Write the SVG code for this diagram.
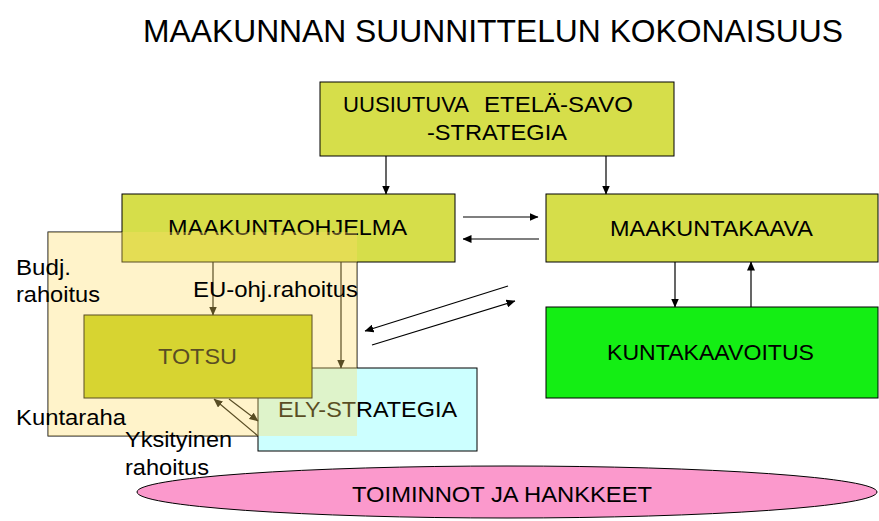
<svg xmlns="http://www.w3.org/2000/svg" width="879" height="521" viewBox="0 0 879 521">
<defs>
<marker id="ah" markerWidth="9" markerHeight="8" refX="8.5" refY="4" orient="auto" markerUnits="userSpaceOnUse">
<path d="M0,0 L9,4 L0,8 z" fill="#000"/>
</marker>
<style>
text{font-family:"Liberation Sans",Arial,sans-serif;fill:#000}
.box{stroke:#000;stroke-width:1}
.lime{fill:#d6de4a}
.t22{font-size:22px}
.lbl{font-size:22px}
.conn line{stroke:#000;stroke-width:1.2;fill:none}
.arr{marker-end:url(#ah)}
</style>
</defs>
<rect width="879" height="521" fill="#fff"/>
<text x="143" y="42" font-size="32" textLength="700" lengthAdjust="spacingAndGlyphs">MAAKUNNAN SUUNNITTELUN KOKONAISUUS</text>

<g id="funding-frame">
<rect x="48" y="232" width="309" height="204" fill="none" stroke="#000" stroke-width="1"/>
</g>

<g id="ely-strategia">
<rect class="box" x="258" y="368" width="219" height="83" fill="#ccffff"/>
<text class="t22" x="278" y="417" textLength="179" lengthAdjust="spacingAndGlyphs">ELY-STRATEGIA</text>
</g>

<g id="totsu">
<rect class="box" x="84" y="315" width="228" height="83" fill="#c2d014"/>
<text class="t22" x="158" y="364" textLength="79" lengthAdjust="spacingAndGlyphs">TOTSU</text>
</g>

<g id="uusiutuva">
<rect class="box lime" x="320" y="82" width="354" height="74"/>
<text class="t22" y="112"><tspan x="343" textLength="126" lengthAdjust="spacingAndGlyphs">UUSIUTUVA</tspan><tspan x="484" textLength="149" lengthAdjust="spacingAndGlyphs">ETELÄ-SAVO</tspan></text>
<text class="t22" x="427" y="140" textLength="140" lengthAdjust="spacingAndGlyphs">-STRATEGIA</text>
</g>

<g id="maakuntaohjelma">
<rect class="box lime" x="122" y="194" width="333" height="68"/>
<text class="t22" x="168" y="235" textLength="239" lengthAdjust="spacingAndGlyphs">MAAKUNTAOHJELMA</text>
</g>

<g id="maakuntakaava">
<rect class="box lime" x="546" y="194" width="332" height="68"/>
<text class="t22" x="610" y="236" textLength="203" lengthAdjust="spacingAndGlyphs">MAAKUNTAKAAVA</text>
</g>

<g id="kuntakaavoitus">
<rect class="box" x="546" y="307" width="332" height="91" fill="#14ee14"/>
<text class="t22" x="607" y="360" textLength="207" lengthAdjust="spacingAndGlyphs">KUNTAKAAVOITUS</text>
</g>

<g id="toiminnot">
<ellipse cx="507" cy="492" rx="370" ry="26" fill="#fb99cc" stroke="#000" stroke-width="1"/>
<text class="t22" x="352" y="502" textLength="300" lengthAdjust="spacingAndGlyphs">TOIMINNOT JA HANKKEET</text>
</g>

<g id="connectors" class="conn">
<line class="arr" x1="386" y1="156" x2="386" y2="194"/>
<line class="arr" x1="606" y1="156" x2="606" y2="194"/>
<line class="arr" x1="463" y1="217" x2="538" y2="217"/>
<line class="arr" x1="539" y1="239" x2="463" y2="239"/>
<line class="arr" x1="675" y1="262" x2="675" y2="307"/>
<line class="arr" x1="751" y1="307" x2="751" y2="262"/>
<line class="arr" x1="508" y1="286" x2="365" y2="331"/>
<line class="arr" x1="372" y1="345" x2="515" y2="301"/>
<line class="arr" x1="213" y1="262" x2="213" y2="315"/>
<line class="arr" x1="341" y1="262" x2="341" y2="368"/>
<line class="arr" x1="258" y1="436" x2="214" y2="399"/>
<line class="arr" x1="229" y1="399" x2="258" y2="421"/>
</g>

<g id="funding-tint">
<rect x="48" y="232" width="309" height="204" fill="#ffdd66" opacity="0.35"/>
</g>

<g id="labels">
<text class="lbl" x="16" y="275" textLength="55" lengthAdjust="spacingAndGlyphs">Budj.</text>
<text class="lbl" x="16" y="302" textLength="84" lengthAdjust="spacingAndGlyphs">rahoitus</text>
<text class="lbl" x="193" y="297" textLength="165" lengthAdjust="spacingAndGlyphs">EU-ohj.rahoitus</text>
<text class="lbl" x="16" y="425" textLength="110" lengthAdjust="spacingAndGlyphs">Kuntaraha</text>
<text class="lbl" x="125" y="447" textLength="107" lengthAdjust="spacingAndGlyphs">Yksityinen</text>
<text class="lbl" x="125" y="475" textLength="84" lengthAdjust="spacingAndGlyphs">rahoitus</text>
</g>
</svg>
